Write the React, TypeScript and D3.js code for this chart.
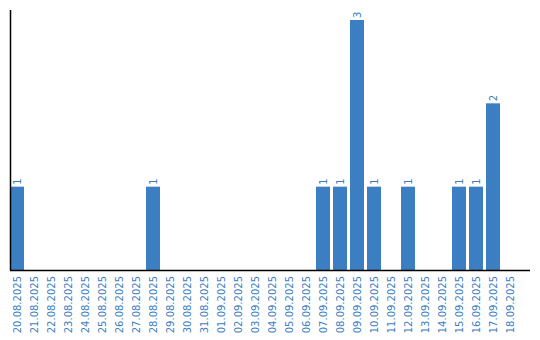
import React from "react";
import * as d3 from "d3";

const dates = [
  "20.08.2025","21.08.2025","22.08.2025","23.08.2025","24.08.2025","25.08.2025",
  "26.08.2025","27.08.2025","28.08.2025","29.08.2025","30.08.2025","31.08.2025",
  "01.09.2025","02.09.2025","03.09.2025","04.09.2025","05.09.2025","06.09.2025",
  "07.09.2025","08.09.2025","09.09.2025","10.09.2025","11.09.2025","12.09.2025",
  "13.09.2025","14.09.2025","15.09.2025","16.09.2025","17.09.2025","18.09.2025",
];
const counts = [1,0,0,0,0,0,0,0,1,0,0,0,0,0,0,0,0,0,1,1,3,1,0,1,0,0,1,1,2,0];

const W = 540, H = 340;
const left = 10, base = 270, top = 10;
const blue = "#3b7ec2";
const font = "DejaVu Sans, Verdana, sans-serif";

export default function App() {
  const x = d3.scaleBand<string>().domain(dates).range([left, left + 30 * 17 - 3]).paddingInner(3 / 17).paddingOuter(0);
  const y = d3.scaleLinear().domain([0, 3.12]).range([base, top]);
  return (
    <svg width={W} height={H} style={{ position: "absolute", left: 0, top: 0 }}>
      {dates.map((d, i) => {
        const v = counts[i];
        const bx = x(d)!;
        const bw = x.bandwidth();
        const cx = bx + bw / 2;
        return (
          <g key={d}>
            {v > 0 && (
              <>
                <rect x={bx} y={y(v)} width={bw} height={base - y(v)} fill={blue} />
                <text
                  transform={`translate(${cx},${y(v) - 2}) rotate(-90)`}
                  dy="0.35em"
                  fontSize={10}
                  fontFamily={font}
                  fill={blue}
                  textAnchor="start"
                >
                  {v}
                </text>
              </>
            )}
            <text
              transform={`translate(${cx},${base + 6}) rotate(-90)`}
              dy="0.35em"
              fontSize={10}
              fontFamily={font}
              fill={blue}
              textAnchor="end"
            >
              {d}
            </text>
          </g>
        );
      })}
      <line x1={left} x2={530} y1={base + 0.5} y2={base + 0.5} stroke="#000" strokeWidth={1.5} />
      <line x1={left + 0.5} x2={left + 0.5} y1={top} y2={base} stroke="#000" strokeWidth={1.5} />
    </svg>
  );
}
